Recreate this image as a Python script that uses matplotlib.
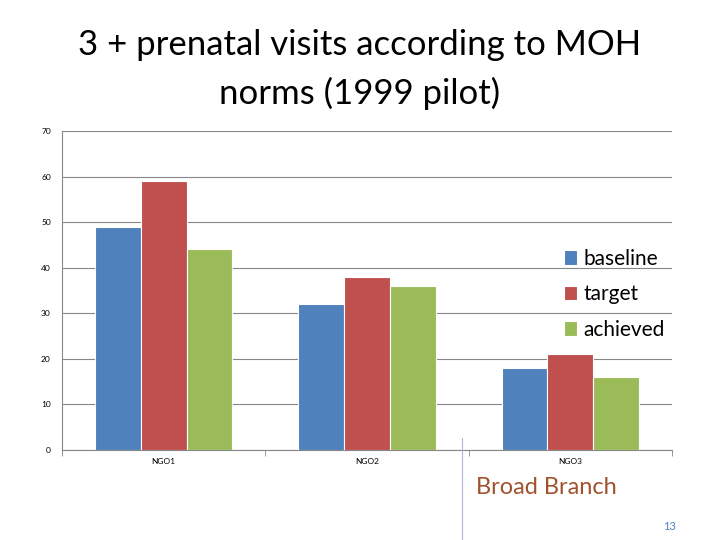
import matplotlib
matplotlib.use("Agg")
import matplotlib.pyplot as plt
import numpy as np

categories = ["NGO1", "NGO2", "NGO3"]
baseline = [49, 32, 18]
target = [59, 38, 21]
achieved = [44, 36, 16]
yticks = [0, 10, 20, 30, 40, 50, 60, 70]

plt.rcParams['font.family'] = ['Lato', 'DejaVu Sans']
fig = plt.figure(figsize=(7.2, 5.4), dpi=100)
ax = fig.add_axes([62/720, 90/540, 610/720, 319/540])

x = np.arange(len(categories))
w = 0.225
cols = ["#4f81bd", "#c0504d", "#9bbb59"]
for i, (vals, lab) in enumerate(zip([baseline, target, achieved], ["baseline", "target", "achieved"])):
    ax.bar(x + (i - 1) * w, vals, w, color=cols[i], edgecolor="white", linewidth=0.8, label=lab, zorder=3)

ax.set_xlim(-0.5, 2.5)
ax.set_ylim(0, 70)
ax.set_yticks(yticks)
ax.set_xticks(x)
ax.set_xticklabels(categories, fontsize=6)
ax.tick_params(axis='y', labelsize=6, length=0, pad=8)
ax.tick_params(axis='x', length=0, pad=6)
ax.set_xticks([-0.5, 0.5, 1.5, 2.5], minor=True)
ax.tick_params(axis='x', which='minor', length=4, color="#868686")
ax.grid(axis='y', color="#868686", linewidth=0.8, zorder=0)
for s in ["top", "right"]:
    ax.spines[s].set_visible(False)
ax.spines["left"].set_color("#868686")
ax.spines["bottom"].set_color("#868686")

ax.legend(loc="upper left", bbox_to_anchor=(0.793, 0.69), frameon=False, fontsize=15,
          handlelength=0.6, handleheight=0.7, handletextpad=0.3, labelspacing=0.75)

fig.text(0.5, 1 - 45/540, "3 + prenatal visits according to MOH", ha="center", va="center", fontsize=25)
fig.text(0.5, 1 - 93/540, "norms (1999 pilot)", ha="center", va="center", fontsize=25)

fig.add_artist(plt.Line2D([462/720, 462/720], [0, 1 - 438/540], color="#b0b8d0", linewidth=0.8))
fig.text(476/720, 1 - 488/540, "Broad Branch", fontsize=17, color="#a0522d", va="center")
fig.text(670/720, 1 - 527/540, "13", fontsize=8, color="#4f81bd", ha="center", va="center")

fig.savefig("out.png", dpi=100)
